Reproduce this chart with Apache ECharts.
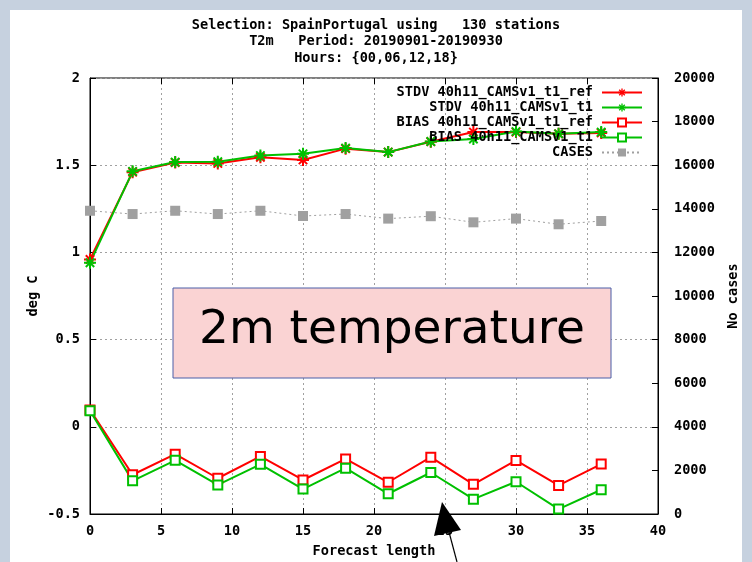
<!DOCTYPE html>
<html>
<head>
<meta charset="utf-8">
<script src="https://cdn.jsdelivr.net/npm/echarts@6/dist/echarts.min.js"></script>
<style>
  html, body { margin: 0; padding: 0; background: #c6d1df; }
  #main { width: 752px; height: 562px; }
</style>
</head>
<body>
<div id="main"></div>
<script>
// forecast length (hours)
const forecastHours = [0, 3, 6, 9, 12, 15, 18, 21, 24, 27, 30, 33, 36];
// deg C
const stdvRef = [0.96, 1.46, 1.515, 1.51, 1.545, 1.53, 1.595, 1.575, 1.635, 1.69, 1.69, 1.68, 1.685];
const stdvT1 = [0.94, 1.465, 1.518, 1.52, 1.555, 1.565, 1.598, 1.575, 1.636, 1.65, 1.693, 1.68, 1.69];
const biasRef = [0.097, -0.275, -0.157, -0.295, -0.17, -0.305, -0.184, -0.318, -0.174, -0.33, -0.193, -0.336, -0.214];
const biasT1 = [0.092, -0.31, -0.192, -0.333, -0.215, -0.357, -0.237, -0.384, -0.262, -0.415, -0.315, -0.472, -0.361];
// number of cases
const cases = [13910, 13760, 13910, 13760, 13910, 13670, 13760, 13550, 13660, 13380, 13550, 13290, 13440];

const monoFont = 'DejaVu Sans Mono';
const fs = 13.6;

// asterisk marker like gnuplot pt 3
const starSymbol = 'path://M-1,-6 L1,-6 L1,6 L-1,6 Z M-6,-1 L6,-1 L6,1 L-6,1 Z ' +
  'M-4.9,-3.5 L-3.5,-4.9 L4.9,3.5 L3.5,4.9 Z M3.5,-4.9 L4.9,-3.5 L-3.5,4.9 L-4.9,3.5 Z';

function pairs(vals) {
  return forecastHours.map((h, i) => [h, vals[i]]);
}

const chart = echarts.init(document.getElementById('main'), null, { renderer: 'canvas' });

const gridDots = { show: true, lineStyle: { color: '#a0a0a0', width: 1, type: [2, 3] } };
const labelStyle = { color: '#000', fontFamily: monoFont, fontWeight: 'bold', fontSize: fs };
const blackLine = { show: true, onZero: false, lineStyle: { color: '#000' } };
const inTicks = { show: true, inside: true, length: 6, lineStyle: { color: '#000' } };

const option = {
  animation: false,
  backgroundColor: '#c6d1df',
  title: {
    text: 'Selection: SpainPortugal using   130 stations\nT2m   Period: 20190901-20190930\nHours: {00,06,12,18}',
    left: 'center',
    top: 12,
    textStyle: { color: '#000', fontFamily: monoFont, fontWeight: 'bold', fontSize: fs, lineHeight: 16.5 }
  },
  legend: {
    orient: 'vertical',
    right: 104,
    top: 80,
    align: 'right',
    itemWidth: 40,
    itemHeight: 10,
    itemGap: 0,
    textStyle: { color: '#000', fontFamily: monoFont, fontWeight: 'bold', fontSize: fs, lineHeight: 15, padding: [0, 4, 0, 0] },
    data: ['STDV 40h11_CAMSv1_t1_ref', 'STDV 40h11_CAMSv1_t1', 'BIAS 40h11_CAMSv1_t1_ref', 'BIAS 40h11_CAMSv1_t1', 'CASES']
  },
  grid: {
    left: 90, right: 94, top: 78, bottom: 48,
    outerBoundsMode: 'none',
    show: true, borderColor: '#000', borderWidth: 1, backgroundColor: 'transparent'
  },
  xAxis: [{
    type: 'value',
    min: 0, max: 40, interval: 5,
    name: 'Forecast length',
    nameLocation: 'middle',
    nameGap: 30,
    nameTextStyle: labelStyle,
    axisLine: blackLine,
    axisTick: inTicks,
    axisLabel: Object.assign({ margin: 10, formatter: v => String(v) }, labelStyle),
    splitLine: gridDots
  }, {
    type: 'value',
    position: 'top',
    min: 0, max: 40, interval: 5,
    axisLine: { show: false, onZero: false },
    axisTick: inTicks,
    axisLabel: { show: false },
    splitLine: { show: false }
  }],
  yAxis: [{
    type: 'value',
    min: -0.5, max: 2, interval: 0.5,
    name: 'deg C',
    nameLocation: 'middle',
    nameRotate: 90,
    nameGap: 50,
    nameMoveOverlap: false,
    nameTextStyle: labelStyle,
    axisLine: blackLine,
    axisTick: inTicks,
    axisLabel: Object.assign({ margin: 10, formatter: v => String(v) }, labelStyle),
    splitLine: gridDots
  }, {
    type: 'value',
    position: 'right',
    min: 0, max: 20000, interval: 2000,
    name: 'No cases',
    nameLocation: 'middle',
    nameRotate: 90,
    nameGap: 68,
    nameTextStyle: labelStyle,
    axisLine: blackLine,
    axisTick: inTicks,
    axisLabel: Object.assign({ margin: 16, formatter: v => String(v) }, labelStyle),
    splitLine: { show: false }
  }],
  graphic: [
    // white page behind the plot
    { type: 'rect', z: -10, shape: { x: 10, y: 10, width: 732, height: 560 }, style: { fill: '#fff' } },
    // annotation box
    { type: 'rect', z: 100, shape: { x: 173, y: 288, width: 438, height: 90 },
      style: { fill: '#fad3d3', stroke: '#4a5ea8', lineWidth: 1 } },
    { type: 'text', z: 101, x: 392, y: 331,
      style: { text: '2m temperature', fill: '#000', font: '47px "DejaVu Sans"', textAlign: 'center', textVerticalAlign: 'middle' } },
    // arrow
    { type: 'line', z: 102, shape: { x1: 449, y1: 532, x2: 457, y2: 562 }, style: { stroke: '#000', lineWidth: 1.2 } },
    { type: 'polygon', z: 102, shape: { points: [[442, 502], [434, 536], [461, 530]] }, style: { fill: '#000' } }
  ],
  series: [{
    name: 'STDV 40h11_CAMSv1_t1_ref',
    type: 'line',
    data: pairs(stdvRef),
    symbol: starSymbol, symbolSize: 12,
    lineStyle: { color: '#ff0000', width: 2 },
    itemStyle: { color: '#ff0000' }
  }, {
    name: 'STDV 40h11_CAMSv1_t1',
    type: 'line',
    data: pairs(stdvT1),
    symbol: starSymbol, symbolSize: 12,
    lineStyle: { color: '#00c000', width: 2 },
    itemStyle: { color: '#00c000' }
  }, {
    name: 'BIAS 40h11_CAMSv1_t1_ref',
    type: 'line',
    data: pairs(biasRef),
    symbol: 'emptyRect', symbolSize: 9,
    lineStyle: { color: '#ff0000', width: 2 },
    itemStyle: { color: '#ff0000', borderWidth: 2 }
  }, {
    name: 'BIAS 40h11_CAMSv1_t1',
    type: 'line',
    data: pairs(biasT1),
    symbol: 'emptyRect', symbolSize: 9,
    lineStyle: { color: '#00c000', width: 2 },
    itemStyle: { color: '#00c000', borderWidth: 2 }
  }, {
    name: 'CASES',
    type: 'line',
    yAxisIndex: 1,
    data: pairs(cases),
    symbol: 'rect', symbolSize: 10,
    lineStyle: { color: '#a0a0a0', width: 1, type: [2, 3] },
    itemStyle: { color: '#a0a0a0' }
  }]
};

chart.setOption(option);
</script>
</body>
</html>
